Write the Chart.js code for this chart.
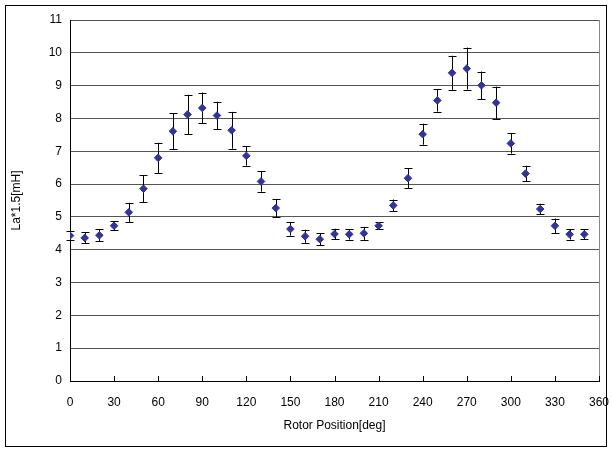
<!DOCTYPE html>
<html>
<head>
<meta charset="utf-8">
<script src="https://cdn.jsdelivr.net/npm/chart.js@4"></script>
<style>
  html, body { margin: 0; padding: 0; background: #fff; }
  #wrap { width: 612px; height: 450px; }
</style>
</head>
<body>
<div id="wrap"><canvas id="chart" width="612" height="450"></canvas></div>
<script>
// rotor angle [deg]
const angles = [0, 10, 20, 30, 40, 50, 60, 70, 80, 90, 100, 110, 120, 130, 140, 150, 160, 170,
  180, 190, 200, 210, 220, 230, 240, 250, 260, 270, 280, 290, 300, 310, 320, 330, 340, 350];
// La*1.5 [mH]
const inductance = [4.43, 4.36, 4.44, 4.73, 5.14, 5.86, 6.80, 7.61, 8.12, 8.32, 8.09, 7.64, 6.86, 6.08, 5.27, 4.63, 4.41, 4.32,
  4.48, 4.47, 4.50, 4.73, 5.35, 6.18, 7.52, 8.55, 9.39, 9.52, 9.01, 8.48, 7.24, 6.32, 5.24, 4.73, 4.47, 4.47];
// +/- error
const errors = [0.13, 0.17, 0.18, 0.14, 0.29, 0.41, 0.46, 0.55, 0.60, 0.47, 0.42, 0.56, 0.30, 0.31, 0.27, 0.20, 0.20, 0.18,
  0.16, 0.16, 0.20, 0.11, 0.18, 0.30, 0.32, 0.34, 0.52, 0.64, 0.42, 0.49, 0.31, 0.24, 0.16, 0.22, 0.16, 0.15];
const xTicks = [0, 30, 60, 90, 120, 150, 180, 210, 240, 270, 300, 330, 360];

const points = angles.map((a, i) => ({ x: a, y: inductance[i] }));

// error bars under the markers
const errorBars = {
  id: 'errorBars',
  beforeDatasetsDraw(chart) {
    const ctx = chart.ctx;
    const xs = chart.scales.x, ys = chart.scales.y;
    ctx.save();
    ctx.strokeStyle = '#000';
    ctx.lineWidth = 1;
    angles.forEach((a, i) => {
      const px = Math.round(xs.getPixelForValue(a)) + 0.5;
      const top = ys.getPixelForValue(inductance[i] + errors[i]);
      const bot = ys.getPixelForValue(inductance[i] - errors[i]);
      ctx.beginPath();
      ctx.moveTo(px, top);
      ctx.lineTo(px, bot);
      ctx.moveTo(px - 4, Math.round(top) + 0.5);
      ctx.lineTo(px + 4, Math.round(top) + 0.5);
      ctx.moveTo(px - 4, Math.round(bot) + 0.5);
      ctx.lineTo(px + 4, Math.round(bot) + 0.5);
      ctx.stroke();
    });
    ctx.restore();
  }
};

// outer frame, right plot edge and the inside tick marks on the x axis
const frame = {
  id: 'frame',
  afterDraw(chart) {
    const ctx = chart.ctx;
    const area = chart.chartArea;
    const xs = chart.scales.x;
    ctx.save();
    ctx.strokeStyle = '#000';
    ctx.lineWidth = 1;
    ctx.strokeRect(5.5, 5.5, 601, 441);
    ctx.strokeStyle = '#888';
    ctx.beginPath();
    ctx.moveTo(Math.round(area.right) + 0.5, area.top);
    ctx.lineTo(Math.round(area.right) + 0.5, area.bottom);
    ctx.stroke();
    ctx.strokeStyle = '#000';
    ctx.beginPath();
    xTicks.forEach(t => {
      const px = Math.round(xs.getPixelForValue(t)) + 0.5;
      ctx.moveTo(px, area.bottom);
      ctx.lineTo(px, area.bottom - 5);
    });
    ctx.stroke();
    ctx.restore();
  }
};

new Chart(document.getElementById('chart'), {
  type: 'scatter',
  data: {
    datasets: [{
      label: 'La*1.5',
      data: points,
      pointStyle: 'rectRot',
      pointRadius: 3.8,
      pointHoverRadius: 3.8,
      backgroundColor: '#333399',
      borderColor: '#333399',
      borderWidth: 1
    }]
  },
  options: {
    responsive: false,
    animation: false,
    events: [],
    layout: { padding: { left: 8, right: 13, top: 20, bottom: 17 } },
    plugins: { legend: { display: false }, tooltip: { enabled: false } },
    scales: {
      x: {
        type: 'linear',
        min: 0,
        max: 360,
        afterBuildTicks(scale) { scale.ticks = xTicks.map(v => ({ value: v })); },
        afterFit(scale) { scale.height = 52; scale.paddingLeft = 0; scale.paddingRight = 0; },
        grid: { display: false, drawTicks: false },
        border: { display: true, color: '#000', width: 1 },
        ticks: {
          padding: 14,
          color: '#000',
          maxRotation: 0,
          autoSkip: false,
          font: { family: 'Liberation Sans', size: 12 }
        },
        title: {
          display: true,
          text: 'Rotor Position[deg]',
          color: '#000',
          padding: { top: 0, bottom: 0 },
          font: { family: 'Liberation Sans', size: 12 }
        }
      },
      y: {
        min: 0,
        max: 11,
        afterFit(scale) { scale.width = 62; },
        grid: { color: '#555', lineWidth: 1, drawTicks: false },
        border: { display: true, color: '#000', width: 1 },
        ticks: {
          stepSize: 1,
          padding: 8,
          color: '#000',
          font: { family: 'Liberation Sans', size: 12 }
        },
        title: {
          display: true,
          text: 'La*1.5[mH]',
          color: '#000',
          padding: { top: 1, bottom: 0 },
          font: { family: 'Liberation Sans', size: 12 }
        }
      }
    }
  },
  plugins: [errorBars, frame]
});
</script>
</body>
</html>
